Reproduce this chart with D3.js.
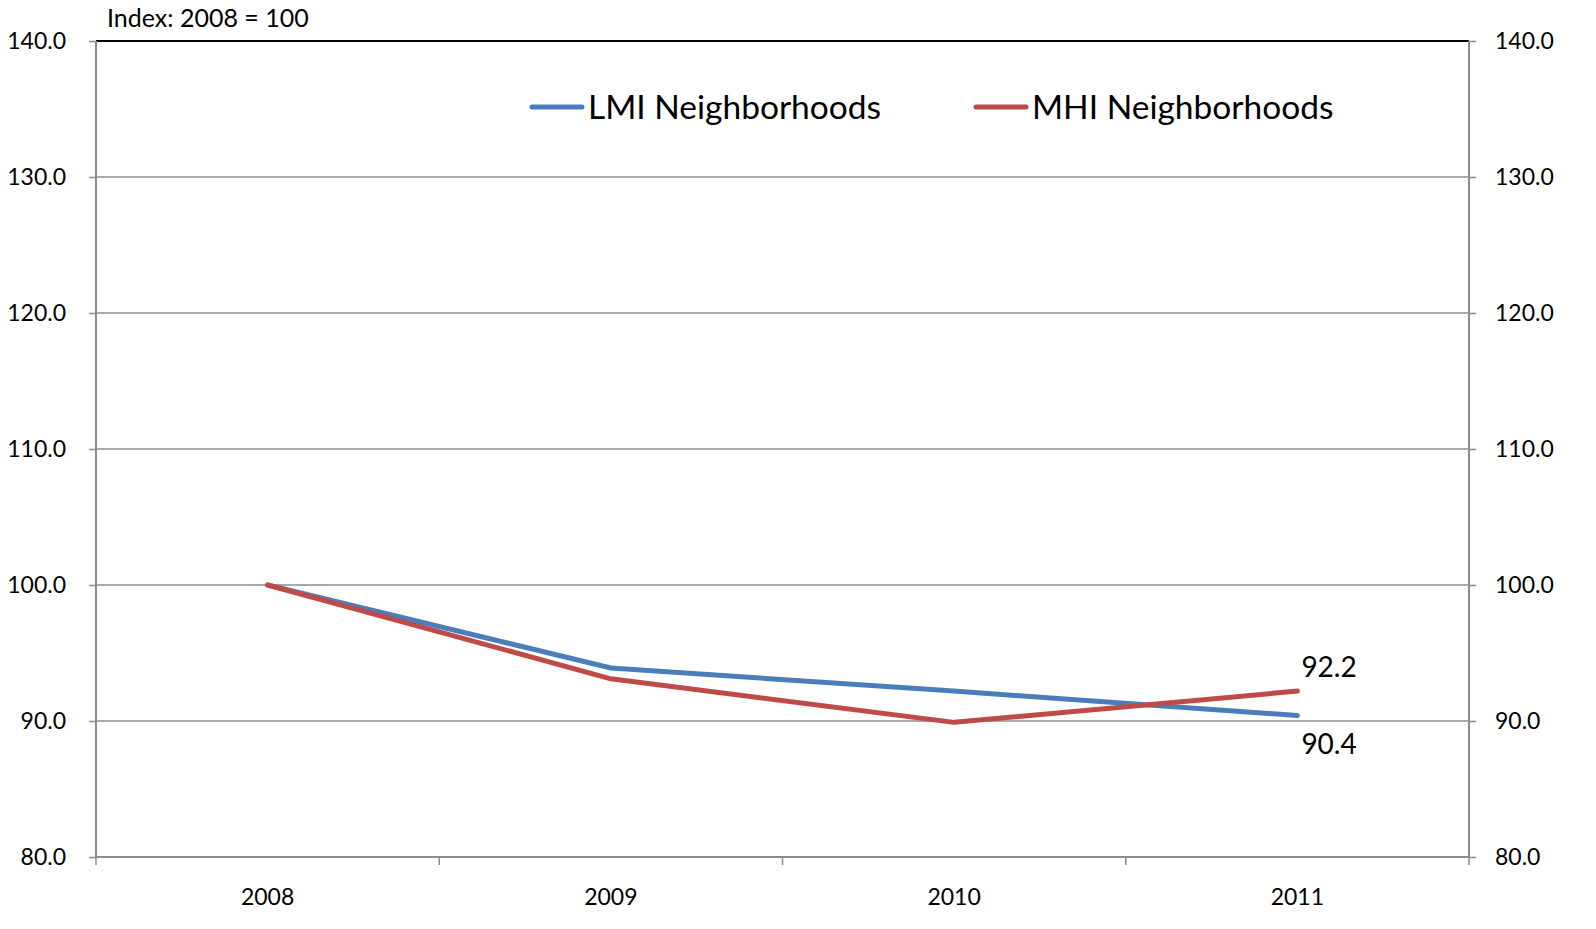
<!DOCTYPE html>
<html>
<head>
<meta charset="utf-8">
<script src="https://cdn.jsdelivr.net/npm/d3@7"></script>
<style>
  html, body { margin: 0; padding: 0; background: #fff; overflow: hidden; }
  svg { display: block; font-family: Lato, "Noto Sans", sans-serif; }
</style>
</head>
<body>
<svg id="chart" width="1596" height="929"></svg>
<script>
const years = ['2008', '2009', '2010', '2011'];
const lmiValues = [100, 93.9, 92.2, 90.4];
const mhiValues = [100, 93.1, 89.9, 92.2];
const yTicks = [80, 90, 100, 110, 120, 130, 140];

const svg = d3.select('#chart');
const plotLeft = 96, plotRight = 1469, plotTop = 41, plotBottom = 857;

const x = d3.scaleBand().domain(years).range([plotLeft, plotRight]);
const y = d3.scaleLinear().domain([80, 140]).range([plotBottom, plotTop]);

// gridlines
svg.append('g').selectAll('line')
  .data(yTicks.slice(1, -1))
  .enter().append('line')
  .attr('x1', plotLeft).attr('x2', plotRight)
  .attr('y1', function (d) { return y(d); })
  .attr('y2', function (d) { return y(d); })
  .attr('stroke', '#8c8c8c').attr('stroke-width', 1.5);

// top border
svg.append('line')
  .attr('x1', plotLeft).attr('x2', plotRight).attr('y1', plotTop).attr('y2', plotTop)
  .attr('stroke', '#000').attr('stroke-width', 2);

// left and right axes
const leftAxis = svg.append('g').attr('transform', 'translate(' + plotLeft + ',0)')
  .call(d3.axisLeft(y).tickValues(yTicks).tickSize(7).tickPadding(23).tickFormat(d3.format('.1f')));
const rightAxis = svg.append('g').attr('transform', 'translate(' + plotRight + ',0)')
  .call(d3.axisRight(y).tickValues(yTicks).tickSize(7).tickPadding(19).tickFormat(d3.format('.1f')));

// bottom axis with ticks between bands
const bottomAxis = svg.append('g').attr('transform', 'translate(0,' + plotBottom + ')')
  .call(d3.axisBottom(x).tickSize(0).tickPadding(32));
bottomAxis.selectAll('.boundary')
  .data(d3.range(years.length + 1))
  .enter().append('line')
  .attr('class', 'boundary')
  .attr('x1', function (i) { return plotLeft + i * x.bandwidth(); })
  .attr('x2', function (i) { return plotLeft + i * x.bandwidth(); })
  .attr('y1', 0).attr('y2', 8)
  .attr('stroke', '#8c8c8c').attr('stroke-width', 1.5);

[leftAxis, rightAxis, bottomAxis].forEach(function (a) {
  a.select('.domain').attr('stroke', '#8c8c8c').attr('stroke-width', 2);
  a.selectAll('.tick line').attr('stroke', '#8c8c8c').attr('stroke-width', 1.5);
  a.selectAll('.tick text').attr('fill', '#000').style('font-size', '23px')
    .style('font-family', 'Lato, "Noto Sans", sans-serif');
});
leftAxis.select('.domain').attr('d', 'M0,' + plotTop + 'V' + plotBottom);
rightAxis.select('.domain').attr('d', 'M0,' + plotTop + 'V' + plotBottom);
bottomAxis.select('.domain').attr('d', 'M' + plotLeft + ',0H' + plotRight);

// lines
const line = d3.line()
  .x(function (d, i) { return x(years[i]) + x.bandwidth() / 2; })
  .y(function (d) { return y(d); });

const series = [
  { name: 'LMI Neighborhoods', values: lmiValues, color: '#4a7ebb' },
  { name: 'MHI Neighborhoods', values: mhiValues, color: '#be4b48' }
];

series.forEach(function (s) {
  svg.append('path')
    .datum(s.values)
    .attr('d', line)
    .attr('fill', 'none')
    .attr('stroke', s.color)
    .attr('stroke-width', 5)
    .attr('stroke-linecap', 'round')
    .attr('stroke-linejoin', 'round');
});

// end labels
const lastX = x(years[3]) + x.bandwidth() / 2;
svg.append('text')
  .attr('x', lastX + 4).attr('y', y(mhiValues[3]) - 14)
  .style('font-size', '28px').text(mhiValues[3].toFixed(1));
svg.append('text')
  .attr('x', lastX + 4).attr('y', y(lmiValues[3]) + 38)
  .style('font-size', '28px').text(lmiValues[3].toFixed(1));

// legend
const legendX = [532, 976];
series.forEach(function (s, i) {
  svg.append('line')
    .attr('x1', legendX[i]).attr('x2', legendX[i] + 50)
    .attr('y1', 107).attr('y2', 107)
    .attr('stroke', s.color).attr('stroke-width', 5)
    .attr('stroke-linecap', 'round');
  svg.append('text')
    .attr('x', legendX[i] + 56).attr('y', 119)
    .style('font-size', '33.5px').text(s.name);
});

// index label
svg.append('text')
  .attr('x', 107).attr('y', 27)
  .style('font-size', '25px').text('Index: 2008 = 100');
</script>
</body>
</html>
